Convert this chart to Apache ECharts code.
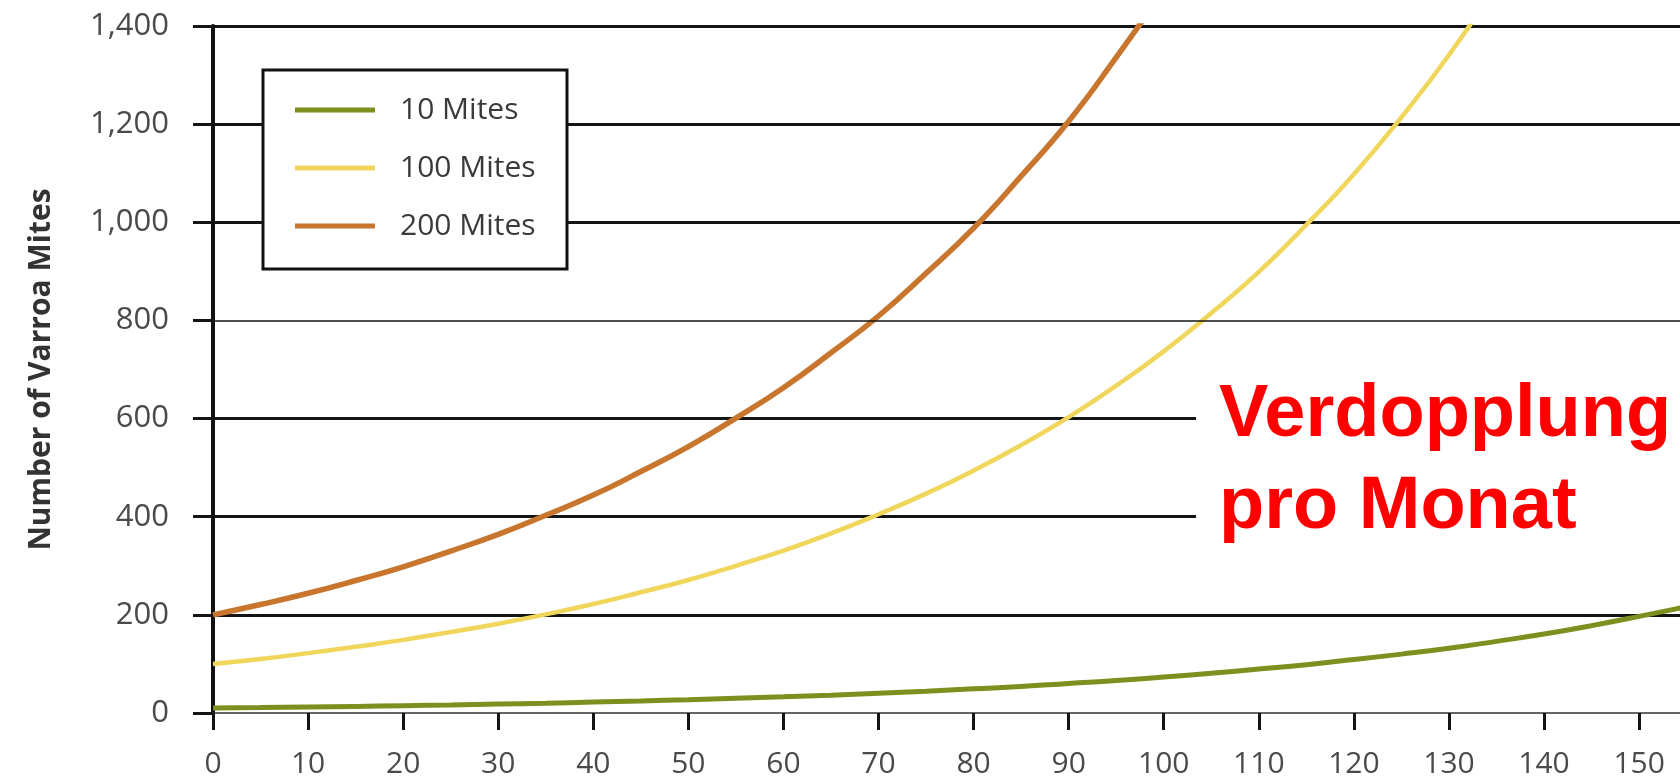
<!DOCTYPE html>
<html>
<head>
<meta charset="utf-8">
<script src="https://cdn.jsdelivr.net/npm/echarts@6/dist/echarts.min.js"></script>
<style>
html,body{margin:0;padding:0;background:#fff;}
#chart{width:1680px;height:779px;}
</style>
</head>
<body>
<div id="chart"></div>
<script>
// ---- data (days vs. number of mites) ----
const days = [0,5,10,15,20,25,30,35,40,45,50,55,60,65,70,75,80,85,90,95,100,105,110,115,120,125,130,135,140,145,150,155,160];
const mites10  = [10,11,12.2,13.5,14.9,16.4,18.2,20,22.2,24.5,27.1,30,33,36.4,40.3,44.4,49.2,54,60.1,66,73.4,81,89.6,98.5,109,120,132,146,161,178,197,217,240];
const mites100 = [100,110,122,135,149,165,182,201,222,246,271,300,331,366,405,447,494,546,603,667,737,815,899,995,1098,1214,1341,1483,1637];
const mites200 = [200,221,244,270,298,330,364,403,444,492,543,601,663,734,809,896,988,1094,1206,1336,1473];
const seriesNames = ['10 Mites','100 Mites','200 Mites'];
const seriesColors = ['#7b901e','#f0d65a','#c8752e'];
const yTicks = [0,200,400,600,800,1000,1200,1400];
const thinGridValues = [800];
const annotationLines = ['Verdopplung','pro Monat'];
const yTitle = 'Number of Varroa Mites';

function pairs(arr){ return arr.map((v,i)=>[days[i], v]); }

const chart = echarts.init(document.getElementById('chart'));
const splitColors = yTicks.map(v => (v === 0 || thinGridValues.includes(v)) ? 'rgba(0,0,0,0)' : '#141414');

const option = {
  animation: false,
  backgroundColor: '#ffffff',
  grid: { left: 213, top: 26, bottom: 63, right: 0, containLabel: false },
  xAxis: {
    type: 'value', min: 0, max: 154.3, interval: 10,
    axisLine: { show: true, lineStyle: { color: '#333', width: 1.5 } },
    axisTick: { show: true, length: 17, lineStyle: { color: '#141414', width: 3 } },
    axisLabel: { margin: 36, fontFamily: 'Open Sans', fontSize: 30, color: '#4a4a4a', showMaxLabel: false },
    splitLine: { show: false }
  },
  yAxis: {
    type: 'value', min: 0, max: 1400, interval: 200,
    name: yTitle, nameLocation: 'middle', nameGap: 157, nameRotate: 90,
    nameTextStyle: { fontFamily: 'Open Sans', fontWeight: 'bold', fontSize: 30, color: '#333' },
    axisLine: { show: true, lineStyle: { color: '#111', width: 4 } },
    axisTick: { show: true, length: 20, lineStyle: { color: '#141414', width: 3 } },
    axisLabel: { margin: 44, fontFamily: 'Open Sans', fontSize: 31, color: '#4a4a4a',
      formatter: v => v.toLocaleString('en-US') },
    splitLine: { show: true, lineStyle: { color: splitColors, width: 3 } }
  },
  legend: {
    orient: 'vertical', left: 295, top: 95, padding: 0, itemGap: 28,
    itemWidth: 80, itemHeight: 5, icon: 'rect', z: 20,
    textStyle: { fontFamily: 'Open Sans', fontSize: 30, lineHeight: 30, color: '#3a3a3a', padding: [0,0,0,20] },
    data: seriesNames
  },
  series: [
    { name: seriesNames[0], type: 'line', data: pairs(mites10), smooth: true, showSymbol: false,
      color: seriesColors[0], lineStyle: { width: 5, color: seriesColors[0] }, z: 3,
      markLine: { silent: true, symbol: 'none', label: { show: false },
        lineStyle: { color: '#141414', width: 1.5, type: 'solid' },
        data: thinGridValues.map(v => ({ yAxis: v })) } },
    { name: seriesNames[1], type: 'line', data: pairs(mites100), smooth: true, showSymbol: false,
      color: seriesColors[1], lineStyle: { width: 4.5, color: seriesColors[1] }, z: 3 },
    { name: seriesNames[2], type: 'line', data: pairs(mites200), smooth: true, showSymbol: false,
      color: seriesColors[2], lineStyle: { width: 5.5, color: seriesColors[2] }, z: 3 }
  ],
  graphic: [
    { type: 'rect', z: 10, shape: { x: 263, y: 70, width: 304, height: 199 },
      style: { fill: '#ffffff', stroke: '#111', lineWidth: 3 } },
    { type: 'rect', z: 10, shape: { x: 1196, y: 345, width: 484, height: 215 },
      style: { fill: '#ffffff' } },
    { type: 'text', z: 20, style: { x: 1219, y: 453, text: annotationLines[0],
      font: 'bold 74px "Liberation Sans", Arial, sans-serif', fill: '#ff0000', textVerticalAlign: 'bottom', verticalAlign: 'bottom' } },
    { type: 'text', z: 20, style: { x: 1219, y: 545, text: annotationLines[1],
      font: 'bold 74px "Liberation Sans", Arial, sans-serif', fill: '#ff0000', textVerticalAlign: 'bottom', verticalAlign: 'bottom' } }
  ]
};
chart.setOption(option);
</script>
</body>
</html>
